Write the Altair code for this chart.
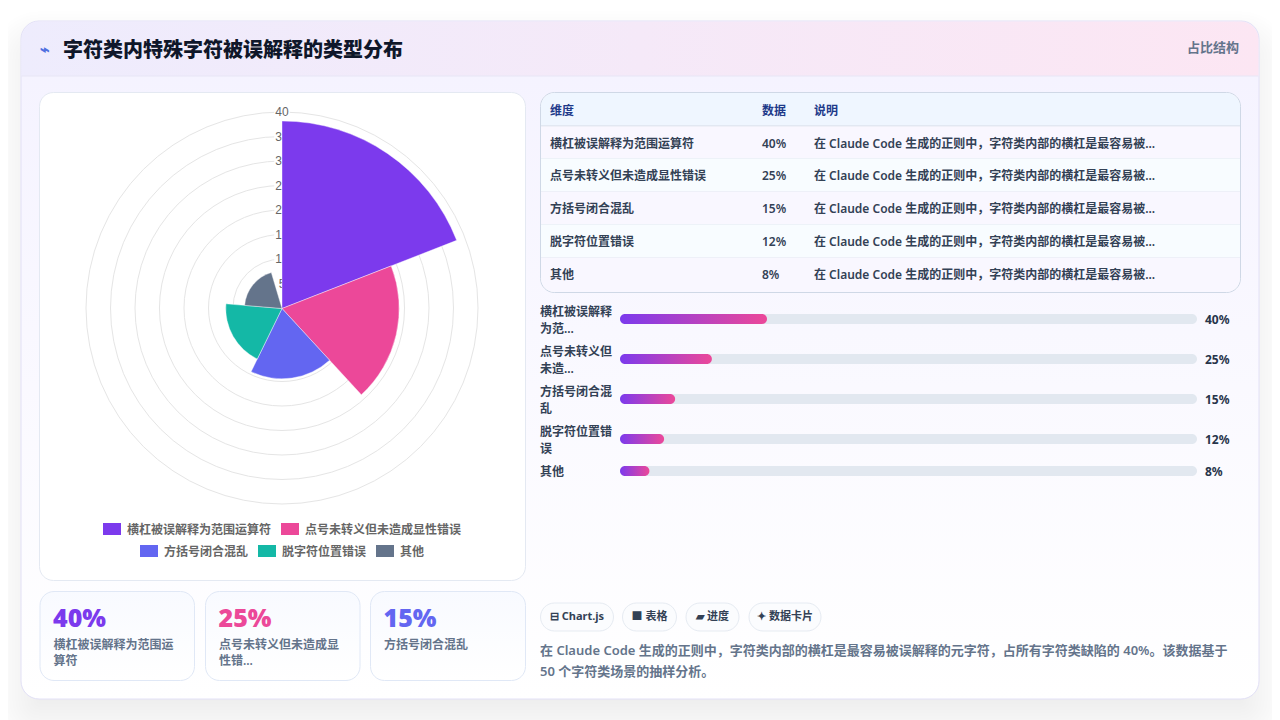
import altair as alt
import pandas as pd

# ---------- chart values ----------
categories = ["横杠被误解释为范围运算符", "点号未转义但未造成显性错误", "方括号闭合混乱", "脱字符位置错误", "其他"]
values = [40, 25, 15, 12, 8]
ring_values = [5, 10, 15, 20, 25, 30, 35, 40]
table_headers = ["维度", "数据", "说明"]
note_short = "在 Claude Code 生成的正则中，字符类内部的横杠是最容易被..."
bar_label_lines = [["横杠被误解释", "为范..."], ["点号未转义但", "未造..."], ["方括号闭合混", "乱"], ["脱字符位置错", "误"], ["其他"]]
kpi_label_lines = [["横杠被误解释为范围运", "算符"], ["点号未转义但未造成显", "性错..."], ["方括号闭合混乱"]]
chips = ["⊟ Chart.js", "■ 表格", "▰ 进度", "✦ 数据卡片"]
title = "字符类内特殊字符被误解释的类型分布"
tag = "占比结构"
desc_lines = ["在 Claude Code 生成的正则中，字符类内部的横杠是最容易被误解释的元字符，占所有字符类缺陷的 40%。该数据基于",
              "50 个字符类场景的抽样分析。"]

# ---------- style ----------
palette = ["#7c3aed", "#ec4899", "#6366f1", "#14b8a6", "#64748b"]
FONT = "Noto Sans, Noto Sans CJK SC, sans-serif"
W, H = 1264, 712
PX = alt.Scale(domain=[8, 8 + W], range=[0, W], nice=False, zero=False)
PY = alt.Scale(domain=[8, 8 + H], range=[0, H], nice=False, zero=False)
TEXT_DY = 0.8


def grad(c0, c1, vertical=False, x2=1, y2=1):
    return alt.Gradient(gradient="linear",
                        stops=[alt.GradientStop(color=c0, offset=0), alt.GradientStop(color=c1, offset=1)],
                        x1=0, y1=0, x2=0 if vertical else x2, y2=1 if vertical else 0)


def box(x0, y0, x1, y1, **mark):
    df = pd.DataFrame([{"x": x0, "x2": x1, "y": y0, "y2": y1}])
    return alt.Chart(df).mark_rect(**mark).encode(
        x=alt.X("x:Q", scale=PX, axis=None), x2="x2:Q",
        y=alt.Y("y:Q", scale=PY, axis=None), y2="y2:Q")


def label(rows, size, color, weight=400, font=FONT, align="left"):
    df = pd.DataFrame(rows, columns=["x", "y", "t"])
    df["y"] = df["y"] + TEXT_DY
    return alt.Chart(df).mark_text(fontSize=size, color=color, fontWeight=weight, font=font,
                                   align=align, baseline="middle").encode(
        x=alt.X("x:Q", scale=PX, axis=None),
        y=alt.Y("y:Q", scale=PY, axis=None),
        text="t:N")


layers = []

# soft card shadow
for i in range(20):
    g = 30 - i * 3
    layers.append(box(21 - g, 41 - g, 1259 + g, 719 + g,
                      fill="#000000", opacity=0.004, cornerRadius=18 + g))

# main card
layers.append(box(21, 21, 1259, 699, fill=grad("#f4f2ff", "#ffffff", vertical=True), stroke="#e2e0f6", strokeWidth=1, cornerRadius=18))
layers.append(box(21.5, 21.5, 1258.5, 76, fill=grad("#eeecfd", "#fce6f3"), cornerRadiusTopLeft=18, cornerRadiusTopRight=18))
layers.append(box(21.5, 75.5, 1258.5, 76.5, fill="#e8e6f6"))
layers.append(label([(40, 49.5, "⌁")], 16, "#4f6fe0", 700))
layers.append(label([(63, 50, title)], 20, "#0f172a", 800))
layers.append(label([(1187, 47.5, tag)], 13, "#64748b", 700))

# polar panel
CX, CY, RING_CY = 282 - 8, 308.5 - 8, 308 - 8
layers.append(box(39.5, 92.5, 525.5, 580.5, fill="#ffffff", stroke="#e4e9f2", cornerRadius=14))

ring_df = pd.DataFrame({"v": ring_values})
layers.append(alt.Chart(ring_df).mark_arc(theta=0, theta2=6.2899, fill="transparent", stroke="#e5e5e5", strokeWidth=1).encode(
    x=alt.value(CX), y=alt.value(RING_CY),
    radius=alt.Radius("v:Q", stack=False, scale=alt.Scale(type="linear", domain=[0, 40], range=[0, 196]))))
tick_y = alt.Y("v:Q", scale=alt.Scale(domain=[0, 40], range=[RING_CY, RING_CY - 196], nice=False), axis=None)
layers.append(alt.Chart(ring_df).mark_point(shape="square", size=240, filled=True, color="#ffffff", opacity=1).encode(
    x=alt.value(CX), y=tick_y))
layers.append(alt.Chart(ring_df).mark_text(font="Liberation Sans", fontSize=12, color="#666666", baseline="middle").encode(
    x=alt.value(CX), y=tick_y, text="v:Q"))

# Sectors: the reference sweeps 95.4 % of the circle
sweep = 360 / len(values) * 0.954
polar_df = pd.DataFrame({"c": categories, "v": values,
                         "a0": [i * sweep for i in range(len(values))],
                         "a1": [(i + 1) * sweep for i in range(len(values))]})
layers.append(alt.Chart(polar_df).mark_arc(stroke="#ffffff", strokeWidth=0.4).encode(
    x=alt.value(CX), y=alt.value(CY),
    theta=alt.Theta("a0:Q", scale=alt.Scale(domain=[0, 360], range=[0, 6.283185])),
    theta2="a1:Q",
    radius=alt.Radius("v:Q", stack=False, scale=alt.Scale(type="linear", domain=[0, 40], range=[0, 187.5])),
    color=alt.Color("c:N", scale=alt.Scale(domain=categories, range=palette), legend=None)))

# legend
swatch_x = [103, 281, 140, 258, 376]
swatch_y = [529, 529, 551, 551, 551]
leg_df = pd.DataFrame({"c": categories, "x": swatch_x, "x2": [x + 18 for x in swatch_x],
                       "y": [y - 6 for y in swatch_y], "y2": [y + 6 for y in swatch_y]})
layers.append(alt.Chart(leg_df).mark_rect().encode(
    x=alt.X("x:Q", scale=PX, axis=None), x2="x2:Q", y=alt.Y("y:Q", scale=PY, axis=None), y2="y2:Q",
    color=alt.Color("c:N", scale=alt.Scale(domain=categories, range=palette), legend=None)))
layers.append(label([(x + 24, y, c) for x, y, c in zip(swatch_x, swatch_y, categories)], 12, "#666666", 600))

# KPI cards
kpi_x = [(40, 194.5), (205.5, 360), (370.5, 525.5)]
for i, (x0, x1) in enumerate(kpi_x):
    layers.append(box(x0, 591.5, x1, 680.5, fill=grad("#f8faff", "#ffffff", vertical=True), stroke="#e0e8f6", cornerRadius=14))
    layers.append(label([(x0 + 13, 618, f"{values[i]}%")], 25, palette[i], 900))
    layers.append(label([(x0 + 13.5, 644.2 + 16 * j, s) for j, s in enumerate(kpi_label_lines[i])], 12, "#64748b", 600))

# table
TX0, TX1 = 540.5, 1240.5
layers.append(box(TX0, 92.5, TX1, 292.5, fill="#f8fafc", stroke="#cfd8e6", cornerRadius=14))
layers.append(box(TX0 + .5, 93, TX1 - .5, 125.5, fill="#eff6ff", cornerRadiusTopLeft=14, cornerRadiusTopRight=14))
layers.append(box(TX0 + .5, 125.5, TX1 - .5, 126.5, fill="#cfd8e6"))
row_edges = [126.5, 158.5, 191.5, 224.5, 257.5, 292]
row_fill = ["#f9f7ff", "#f8fcff"]
for i in range(5):
    last = i == 4
    kw = {"cornerRadiusBottomLeft": 14, "cornerRadiusBottomRight": 14} if last else {}
    layers.append(box(TX0 + .5, row_edges[i], TX1 - .5, row_edges[i + 1], fill=row_fill[i % 2], **kw))
    if not last:
        layers.append(box(TX0 + .5, row_edges[i + 1] - .5, TX1 - .5, row_edges[i + 1] + .5, fill="#e2e8f0"))
col_x = [550, 762, 814]
layers.append(label([(x, 110, h) for x, h in zip(col_x, table_headers)], 12, "#1e3a8a", 700))
row_y = [143, 175.5, 208.5, 241.5, 274.5]
layers.append(label([(col_x[0], y, c) for y, c in zip(row_y, categories)], 12, "#334155", 600))
layers.append(label([(col_x[1], y, f"{v}%") for y, v in zip(row_y, values)], 12, "#334155", 600))
layers.append(label([(col_x[2], y, note_short) for y in row_y], 12, "#334155", 600))

# progress bars: row height depends on the number of label lines
bar_y, cur = [], 319
for lines in bar_label_lines:
    if len(lines) == 1 and bar_y:
        cur -= 8
    bar_y.append(cur)
    cur += 40
bars = pd.DataFrame({"c": categories, "v": values, "z": 0, "full": 100,
                     "y": [y - 5 for y in bar_y], "y2": [y + 5 for y in bar_y]})
layers.append(alt.Chart(bars).mark_bar(fill="#e2e8f0", cornerRadius=5).encode(
    x=alt.X("z:Q", scale=alt.Scale(domain=[0, 100], range=[620 - 8, 1197 - 8]), axis=None), x2="full:Q",
    y=alt.Y("y:Q", scale=PY, axis=None), y2="y2:Q"))
layers.append(alt.Chart(bars).mark_bar(fill=grad("#7c3aed", "#ec4899"), cornerRadius=5).encode(
    x=alt.X("z:Q", scale=alt.Scale(domain=[0, 157], range=[620 - 8, 1197 - 8]), axis=None), x2="v:Q",
    y=alt.Y("y:Q", scale=PY, axis=None), y2="y2:Q"))
lab_rows = []
for y, lines in zip(bar_y, bar_label_lines):
    for j, s in enumerate(lines):
        off = 0 if len(lines) == 1 else -7.5 + 17 * j
        lab_rows.append((540, y + off, s))
layers.append(label(lab_rows, 12, "#334155", 600))
layers.append(label([(1205, y, f"{v}%") for y, v in zip(bar_y, values)], 12, "#27344a", 700))

# chips
chip_x = [(540, 614), (622, 677), (685.5, 739.5), (748.5, 821.5)]
for (x0, x1), s in zip(chip_x, chips):
    layers.append(box(x0 + .5, 603, x1 - .5, 631, fill="#fbfcfe", stroke="#e6ebf2", cornerRadius=14))
    layers.append(label([((x0 + x1) / 2, 616.5, s)], 11, "#334155", 700, align="center"))

# description
layers.append(label([(540, 650.5, desc_lines[0]), (540, 671.5, desc_lines[1])], 13, "#64748b", 600))

chart = alt.layer(*layers).resolve_scale(
    x="independent", y="independent", color="independent", radius="independent", theta="independent"
).properties(width=W, height=H, padding=0, background="#ffffff",
             autosize=alt.AutoSizeParams(type="none")).configure_view(strokeWidth=0)

chart.save("out.html", embed_options={"renderer": "svg", "actions": False})
